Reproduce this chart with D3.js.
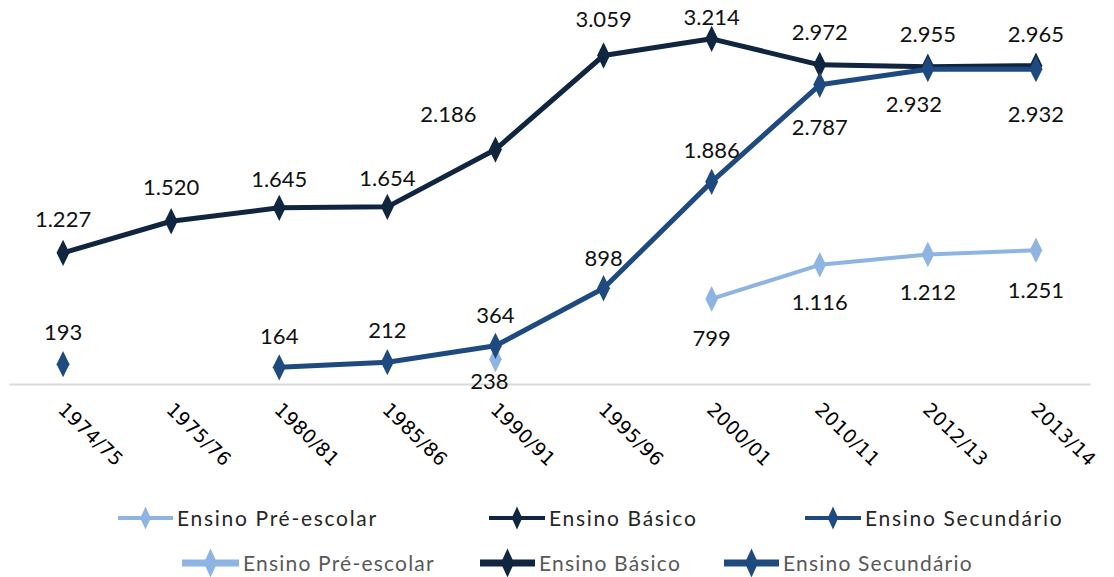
<!DOCTYPE html>
<html>
<head>
<meta charset="utf-8">
<script src="https://cdn.jsdelivr.net/npm/d3@7/dist/d3.min.js"></script>
<style>
  html, body { margin: 0; padding: 0; background: #ffffff; }
  svg { display: block; }
</style>
</head>
<body>
<svg id="chart" width="1114" height="577"></svg>
<script>
// School years on the category axis
const categories = ["1974/75", "1975/76", "1980/81", "1985/86", "1990/91",
                    "1995/96", "2000/01", "2010/11", "2012/13", "2013/14"];

// Values per level of education (null = no data for that year)
const preEscolar = [null, null, null, null, 238, null, 799, 1116, 1212, 1251];
const basico     = [1227, 1520, 1645, 1654, 2186, 3059, 3214, 2972, 2955, 2965];
const secundario = [193, null, 164, 212, 364, 898, 1886, 2787, 2932, 2932];

const seriesNames = ["Ensino Pré-escolar", "Ensino Básico", "Ensino Secundário"];

// Label placement (offset of each value label from its point)
const preLabelOffsets  = [null, null, null, null, [-6, 22], null, [0, 39], [0, 37], [0, 38], [0, 40]];
const basLabelOffsets  = [[0, -34], [0, -34], [0, -29], [0, -29], [-47, -35], [0, -36], [0, -22], [0, -33], [0, -33], [0, -32]];
const secLabelOffsets  = [[0, -32], null, [0, -31], [0, -32], [0, -31], [0, -30], [0, -32], [0, 42], [-14, 35], [0, 45]];

const colors = { pre: "#8DB4E2", bas: "#10253F", sec: "#1F4A80" };

const svg = d3.select("#chart");

const x = d3.scaleBand().domain(categories).range([9, 1090]).padding(0);
const y = d3.scaleLinear().domain([0, 3500]).range([385, 8]);
const cx = c => x(c) + x.bandwidth() / 2;

// Category axis
const xAxis = d3.axisBottom(x).tickSize(0).tickFormat(d => d);
const gx = svg.append("g").attr("transform", "translate(0,384)").call(xAxis);
gx.select(".domain").attr("stroke", "#d9d9d9").attr("stroke-width", 2);
gx.selectAll(".tick text")
  .attr("font-family", "'DejaVu Sans', sans-serif")
  .attr("font-size", 19)
  .attr("letter-spacing", 0.3)
  .attr("fill", "#000")
  .attr("text-anchor", "start")
  .attr("x", 0).attr("y", 0).attr("dy", 0)
  .attr("transform", "translate(-6,27) rotate(44)");

const fmt = v => d3.format(",")(v).replace(/,/g, ".");

const diamond = d3.symbol().type(d3.symbolDiamond);

function drawSeries(values, color, width, markerSize, offsets) {
  const pts = categories.map((c, i) => ({ c, v: values[i], off: offsets[i] }));
  const line = d3.line()
    .defined(d => d.v !== null)
    .x(d => cx(d.c))
    .y(d => y(d.v));
  const g = svg.append("g");
  g.append("path")
    .datum(pts)
    .attr("d", line)
    .attr("fill", "none")
    .attr("stroke", color)
    .attr("stroke-width", width)
    .attr("stroke-linejoin", "round");
  const valid = pts.filter(d => d.v !== null);
  g.selectAll("path.mk")
    .data(valid)
    .join("path")
    .attr("class", "mk")
    .attr("d", diamond.size(markerSize))
    .attr("transform", d => `translate(${cx(d.c)},${y(d.v)}) scale(0.85,1)`)
    .attr("fill", color);
  return valid;
}

function drawLabels(valid) {
  svg.append("g").selectAll("text")
    .data(valid)
    .join("text")
    .attr("x", d => cx(d.c) + d.off[0])
    .attr("y", d => y(d.v) + d.off[1])
    .attr("dy", "0.36em")
    .attr("text-anchor", "middle")
    .attr("font-family", "Lato, 'Open Sans', sans-serif")
    .attr("font-size", 22)
    .attr("fill", "#111")
    .text(d => fmt(d.v));
}

const vPre = drawSeries(preEscolar, colors.pre, 4, 190, preLabelOffsets);
const vBas = drawSeries(basico, colors.bas, 5, 200, basLabelOffsets);
const vSec = drawSeries(secundario, colors.sec, 5, 200, secLabelOffsets);
drawLabels(vPre);
drawLabels(vBas);
drawLabels(vSec);

// Legends (two rows)
const seriesColors = [colors.pre, colors.bas, colors.sec];
function legendRow(yPos, items, lineW, mSize, fontSize, spacing, textColor) {
  const g = svg.append("g");
  items.forEach((it, i) => {
    const gi = g.append("g").attr("transform", `translate(${it.x},${yPos})`);
    gi.append("line").attr("x1", 0).attr("x2", it.len).attr("y1", 0).attr("y2", 0)
      .attr("stroke", seriesColors[i]).attr("stroke-width", lineW);
    gi.append("path").attr("d", diamond.size(mSize))
      .attr("transform", `translate(${it.len / 2},0) scale(0.8,1)`)
      .attr("fill", seriesColors[i]);
    gi.append("text")
      .attr("x", it.len + 4).attr("y", 0).attr("dy", "0.36em")
      .attr("font-family", "Lato, 'Open Sans', sans-serif")
      .attr("font-size", fontSize)
      .attr("letter-spacing", spacing)
      .attr("fill", textColor)
      .text(seriesNames[i]);
  });
}
legendRow(518, [{ x: 118, len: 55 }, { x: 489, len: 56 }, { x: 805, len: 56 }], 4, 150, 21, 1.7, "#262626");
legendRow(563, [{ x: 182, len: 57 }, { x: 480, len: 55 }, { x: 724, len: 55 }], 7, 240, 21, 1.2, "#595959");
</script>
</body>
</html>
